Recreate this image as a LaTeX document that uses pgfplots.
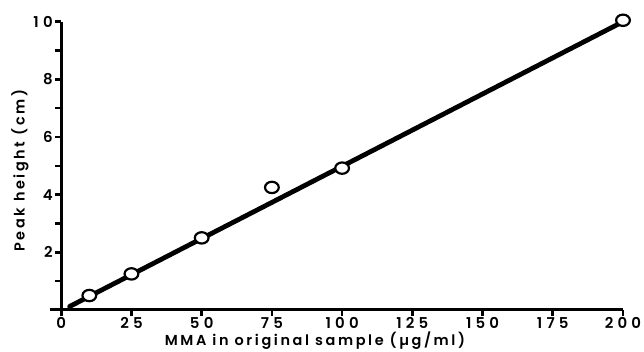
\documentclass[border=0pt]{standalone}
\usepackage{fontspec}
\setmainfont{Poppins}[UprightFont=* SemiBold]
\usepackage{pgfplots}
\pgfplotsset{compat=1.18}
\usetikzlibrary{calc}
\newcommand{\lblfont}{\fontsize{14.5}{16}\selectfont\addfontfeatures{LetterSpace=18}}
\newcommand{\tickfont}{\fontsize{15}{16}\selectfont\addfontfeatures{LetterSpace=28}}
\begin{document}
\begin{tikzpicture}
\begin{axis}[
  name=ax,
  scale only axis,
  width=573bp, height=294bp,
  xmin=-4, xmax=200, ymin=-0.2, ymax=10,
  axis lines=middle,
  axis line style={-, line width=3pt},
  tick align=outside,
  major tick length=6bp, minor tick length=6bp,
  tick style={line width=2.6pt, black},
  xtick={0,25,50,75,100,125,150,175,200},
  xticklabels={0,25,50,75,100,125,150,175,200},
  ytick={2,4,6,8,10},
  yticklabels={2,4,6,8,10},
  minor ytick={1,3,5,7,9},
  hide obscured x ticks=false,
  xticklabel style={font=\tickfont, yshift=2bp},
  yticklabel style={font=\tickfont, xshift=1bp},
  clip=false,
]
\addplot[black, line width=4.8pt, line cap=round] coordinates {(3,0.12) (200,10.0)};
\addplot[only marks, mark=*, mark size=6pt, mark options={fill=white, draw=black, line width=2.2pt, xscale=1.15, yscale=0.95}] coordinates {
(10,0.5) (25,1.25) (50,2.5) (75,4.25) (100,4.92) (200,10.05)};
\end{axis}
\node[rotate=90, font=\lblfont] at ($(ax.south west)+(-30bp,145bp)$) {Peak height (cm)};
\node[font=\lblfont] at ($(ax.south west)+(265bp,-24.5bp)$) {MMA in original sample (µg/ml)};
\pgfresetboundingbox
\path ($(ax.south west)+(-50bp,-36.2bp)$) rectangle ($(ax.north east)+(21bp,21.7bp)$);
\end{tikzpicture}
\end{document}
